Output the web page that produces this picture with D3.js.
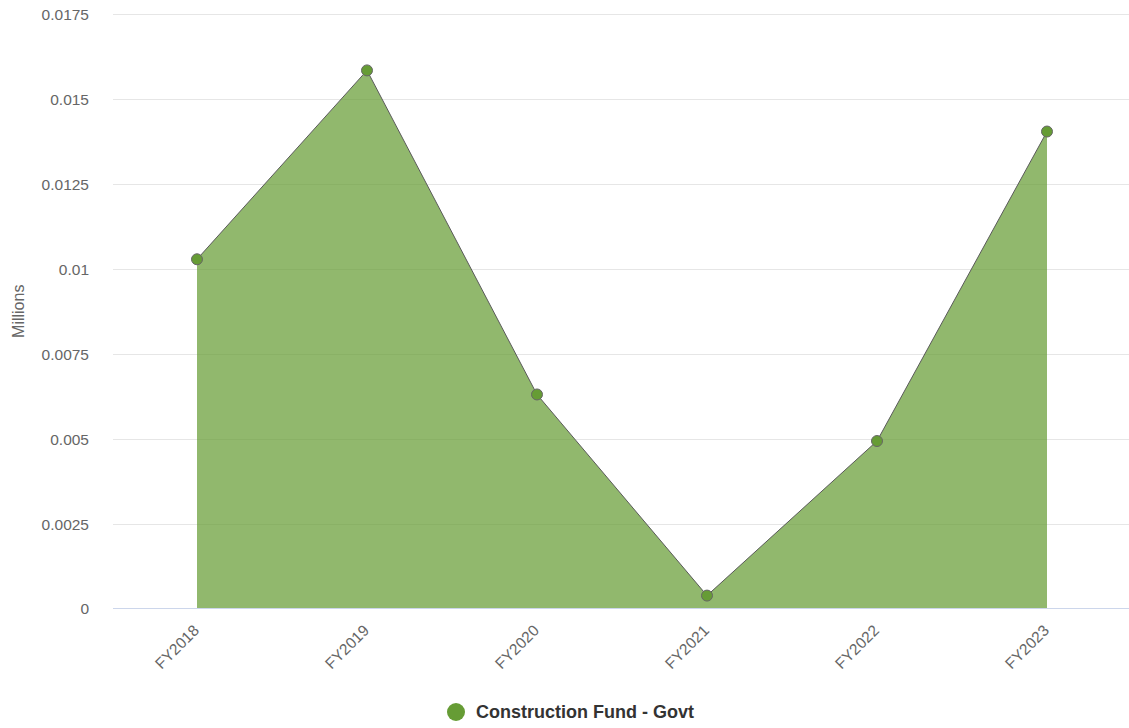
<!DOCTYPE html>
<html>
<head>
<meta charset="utf-8">
<script src="https://cdn.jsdelivr.net/npm/d3@7"></script>
<style>
  body { margin: 0; background: #fff; }
  text { font-family: "Liberation Sans", Arial, sans-serif; }
</style>
</head>
<body>
<div id="chart"></div>
<script>
const categories = ['FY2018', 'FY2019', 'FY2020', 'FY2021', 'FY2022', 'FY2023']
const values = [0.01028, 0.01584, 0.0063, 0.00038, 0.00493, 0.01404]
const yTicks = [0, 0.0025, 0.005, 0.0075, 0.01, 0.0125, 0.015, 0.0175]
const seriesName = 'Construction Fund - Govt'

const width = 1129
const height = 728
const plotLeft = 112
const plotRight = 1132
const plotTop = 14
const plotBottom = 608.5

const svg = d3.select('#chart')
  .append('svg')
  .attr('width', width)
  .attr('height', height)
  .style('display', 'block')

const x = d3.scaleBand()
  .domain(categories)
  .range([plotLeft, plotRight])

const y = d3.scaleLinear()
  .domain([0, 0.0175])
  .range([plotBottom, plotTop])

const cx = d => x(d) + x.bandwidth() / 2

// Grid lines
svg.append('g')
  .selectAll('line')
  .data(yTicks.filter(t => t > 0))
  .join('line')
  .attr('x1', plotLeft + 1)
  .attr('x2', width)
  .attr('y1', d => Math.round(y(d)) + 0.5)
  .attr('y2', d => Math.round(y(d)) + 0.5)
  .attr('stroke', '#e6e6e6')
  .attr('stroke-width', 1)

// Y axis labels
const yAxis = d3.axisLeft(y)
  .tickValues(yTicks)
  .tickSize(0)
  .tickPadding(0)
  .tickFormat(d => d3.format('')(+d.toFixed(4)))

svg.append('g')
  .attr('transform', `translate(${89}, 0)`)
  .call(yAxis)
  .call(g => g.select('.domain').remove())
  .selectAll('text')
  .attr('fill', '#666')
  .attr('font-size', '15.5px')
  .attr('dy', '0.35em')

// Y axis title
svg.append('text')
  .attr('transform', `translate(${24}, ${(plotTop + plotBottom) / 2}) rotate(-90)`)
  .attr('text-anchor', 'middle')
  .attr('fill', '#666')
  .attr('font-size', '16px')
  .text('Millions')

const data = categories.map((c, i) => ({ cat: c, value: values[i] }))

// Area
const area = d3.area()
  .x(d => cx(d.cat))
  .y0(y(0))
  .y1(d => y(d.value))

svg.append('path')
  .datum(data)
  .attr('d', area)
  .attr('fill', '#669c35')
  .attr('fill-opacity', 0.72)

// Line
const line = d3.line()
  .x(d => cx(d.cat))
  .y(d => y(d.value))

svg.append('path')
  .datum(data)
  .attr('d', line)
  .attr('fill', 'none')
  .attr('stroke', '#5a5a5a')
  .attr('stroke-width', 1)

// X axis baseline
svg.append('line')
  .attr('x1', plotLeft + 1)
  .attr('x2', width)
  .attr('y1', plotBottom)
  .attr('y2', plotBottom)
  .attr('stroke', '#ccd6eb')
  .attr('stroke-width', 1)

// Markers
svg.append('g')
  .selectAll('circle')
  .data(data)
  .join('circle')
  .attr('cx', d => cx(d.cat))
  .attr('cy', d => y(d.value))
  .attr('r', 5.5)
  .attr('fill', '#669c35')
  .attr('stroke', '#666')
  .attr('stroke-width', 1)

// X axis labels
const xAxis = d3.axisBottom(x).tickSize(0).tickPadding(0)

svg.append('g')
  .attr('transform', `translate(0, ${plotBottom})`)
  .call(xAxis)
  .call(g => g.select('.domain').remove())
  .selectAll('text')
  .attr('fill', '#666')
  .attr('font-size', '15.5px')
  .attr('text-anchor', 'end')
  .attr('dy', null)
  .attr('y', 0)
  .attr('transform', 'translate(3, 23) rotate(-45)')

// Legend
const legend = svg.append('g')
  .attr('transform', `translate(${456}, ${712})`)

legend.append('circle')
  .attr('r', 9)
  .attr('fill', '#669c35')

legend.append('text')
  .attr('x', 20)
  .attr('y', 0)
  .attr('dy', '0.35em')
  .attr('fill', '#333')
  .attr('font-size', '18px')
  .attr('font-weight', 'bold')
  .text(seriesName)
</script>
</body>
</html>
